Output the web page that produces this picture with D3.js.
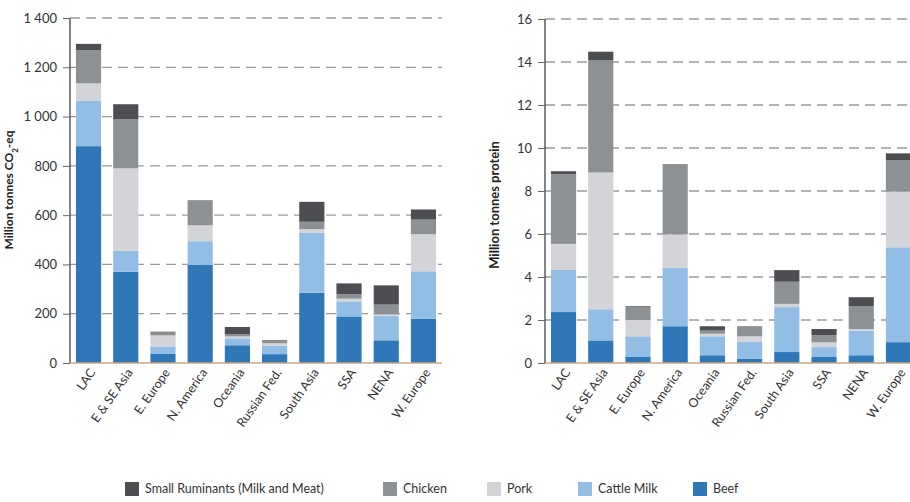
<!DOCTYPE html>
<html>
<head>
<meta charset="utf-8">
<script src="https://cdn.jsdelivr.net/npm/d3@7/dist/d3.min.js"></script>
<style>
  html, body { margin: 0; padding: 0; background: #fff; }
  svg { display: block; font-family: Lato, "Open Sans", "DejaVu Sans", sans-serif; }
</style>
</head>
<body>
<svg id="chart" width="910" height="502"></svg>
<script>
// Regions along the x axis
const regions = ["LAC", "E & SE Asia", "E. Europe", "N. America", "Oceania",
  "Russian Fed.", "South Asia", "SSA", "NENA", "W. Europe"];

// Stack order from bottom to top
const species = ["Beef", "Cattle Milk", "Pork", "Chicken", "Small Ruminants (Milk and Meat)"];

// Emissions, million tonnes CO2-eq
const emBeef    = [880, 370, 37, 398, 72, 36, 285, 189, 92, 180];
const emMilk    = [185, 85, 30, 96, 28, 34, 243, 61, 100, 192];
const emPork    = [70, 335, 45, 65, 8, 10, 15, 11, 5, 151];
const emChicken = [135, 200, 12, 99, 8, 8, 30, 18, 40, 59];
const emSmallR  = [25, 60, 3, 2, 30, 4, 81, 44, 78, 41];

// Protein production, million tonnes
const prBeef    = [2.37, 1.05, 0.28, 1.71, 0.36, 0.19, 0.51, 0.28, 0.36, 0.97];
const prMilk    = [1.96, 1.45, 0.96, 2.72, 0.88, 0.81, 2.09, 0.46, 1.15, 4.41];
const prPork    = [1.21, 6.36, 0.76, 1.55, 0.12, 0.24, 0.15, 0.22, 0.07, 2.59];
const prChicken = [3.24, 5.23, 0.62, 3.25, 0.15, 0.45, 1.03, 0.34, 1.05, 1.47];
const prSmallR  = [0.14, 0.39, 0.03, 0.02, 0.20, 0.02, 0.54, 0.28, 0.43, 0.31];

// Axis ticks
const emTicks = [0, 200, 400, 600, 800, 1000, 1200, 1400];
const prTicks = [0, 2, 4, 6, 8, 10, 12, 14, 16];

const colors = ["#2f77b7", "#92bde4", "#d2d4d7", "#8e9194", "#4c4e51"];

const svg = d3.select("#chart");
const color = d3.scaleOrdinal().domain(species).range(colors);

function rows(series) {
  return regions.map((r, i) => {
    const o = { region: r };
    species.forEach((s, k) => { o[s] = series[k][i]; });
    return o;
  });
}

// thousands separated by a space, e.g. "1 200"
function fmtThousands(v) {
  return d3.format(",")(v).replace(",", " ");
}

function drawPanel(cfg) {
  const x = d3.scaleBand().domain(regions).range([cfg.x0, cfg.x1])
    .paddingInner(0.324).paddingOuter(0.16);
  const y = d3.scaleLinear().domain([0, cfg.max]).range([363, cfg.yTop]);
  const g = svg.append("g");

  // dashed gridlines
  g.append("g").selectAll("line").data(cfg.ticks.filter(t => t > 0)).join("line")
    .attr("x1", cfg.x0).attr("x2", cfg.gridEnd)
    .attr("y1", d => y(d)).attr("y2", d => y(d))
    .attr("stroke", "#9a9a9a").attr("stroke-width", 1.3)
    .attr("stroke-dasharray", "10,6");

  // stacked bars
  const stacked = d3.stack().keys(species)(rows(cfg.series));
  g.append("g").selectAll("g").data(stacked).join("g")
    .attr("fill", d => color(d.key))
    .selectAll("rect").data(d => d).join("rect")
    .attr("x", d => x(d.data.region))
    .attr("width", x.bandwidth())
    .attr("y", d => y(d[1]))
    .attr("height", d => Math.max(0, y(d[0]) - y(d[1])));

  // y axis
  const ya = d3.axisLeft(y).tickValues(cfg.ticks).tickSize(7).tickPadding(6)
    .tickFormat(cfg.fmt);
  const yg = g.append("g").attr("transform", `translate(${cfg.x0},0)`).call(ya);
  yg.select(".domain").attr("stroke", "#333").attr("stroke-width", 1.2)
    .attr("d", `M0,${y(cfg.max)}V363`);
  yg.selectAll(".tick line").attr("stroke", "#666");
  yg.selectAll(".tick text").attr("fill", "#333").style("font-size", "13px")
    .style("font-family", "Lato, 'Open Sans', sans-serif");

  // x axis baseline and rotated labels
  g.append("line").attr("x1", cfg.x0).attr("x2", cfg.gridEnd)
    .attr("y1", 363).attr("y2", 363)
    .attr("stroke", "#c9a987").attr("stroke-width", 1.5);
  g.append("g").selectAll("text").data(regions).join("text")
    .attr("transform", d => `translate(${x(d) + x.bandwidth() / 2 + 4},${370}) rotate(-55)`)
    .attr("text-anchor", "end")
    .attr("dy", "0.35em")
    .attr("fill", "#333")
    .style("font-size", "12.5px")
    .text(d => d);

  // y axis title
  const t = g.append("text")
    .attr("transform", `translate(${cfg.titleX},${cfg.titleY}) rotate(-90)`)
    .attr("text-anchor", "middle")
    .attr("font-weight", "bold")
    .attr("fill", "#222")
    .style("font-size", cfg.titleSize);
  cfg.title(t);
}

drawPanel({
  x0: 70, x1: 442, gridEnd: 442, yTop: 18, max: 1400,
  ticks: emTicks, fmt: fmtThousands,
  series: [emBeef, emMilk, emPork, emChicken, emSmallR],
  titleX: 13, titleY: 190, titleSize: "12px",
  title: t => {
    t.append("tspan").text("Million tonnes CO");
    t.append("tspan").attr("baseline-shift", "sub").style("font-size", "8px").text("2");
    t.append("tspan").text("-eq");
  }
});

drawPanel({
  x0: 545, x1: 917, gridEnd: 910, yTop: 19, max: 16,
  ticks: prTicks, fmt: d3.format("d"),
  series: [prBeef, prMilk, prPork, prChicken, prSmallR],
  titleX: 499, titleY: 205, titleSize: "13px",
  title: t => t.text("Million tonnes protein")
});

// legend, top layer first
const legendOrder = species.slice().reverse();
const legendX = [125, 383, 487, 578, 693];
const lg = svg.append("g").selectAll("g").data(legendOrder).join("g")
  .attr("transform", (d, i) => `translate(${legendX[i]},482)`);
lg.append("rect").attr("width", 14).attr("height", 14).attr("fill", d => color(d));
lg.append("text").attr("x", 20).attr("y", 7).attr("dy", "0.35em")
  .attr("fill", "#333").style("font-size", "12.5px").text(d => d);
</script>
</body>
</html>
